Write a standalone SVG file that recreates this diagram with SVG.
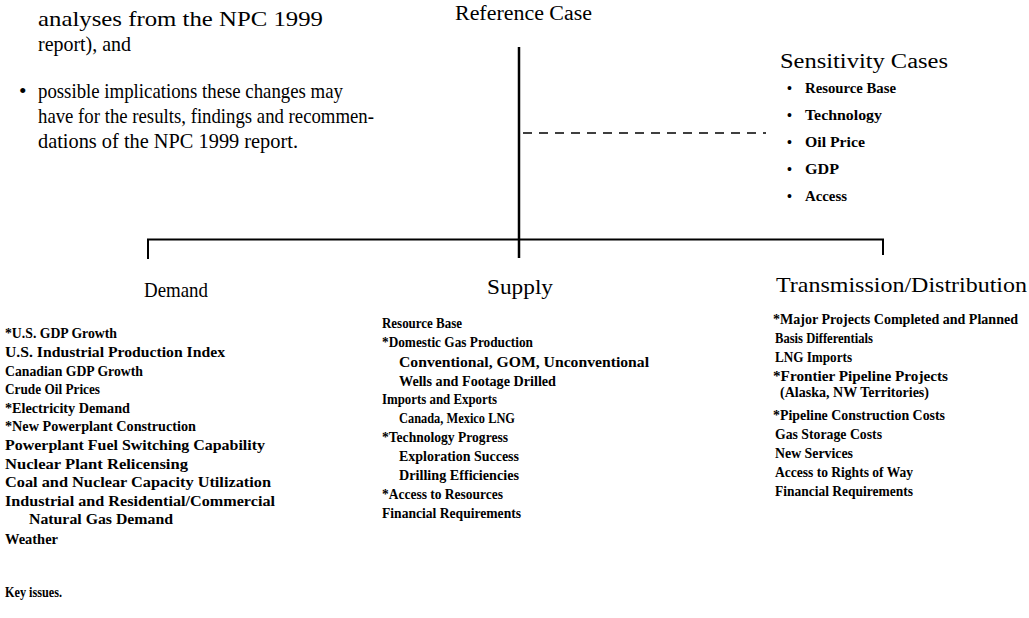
<svg xmlns="http://www.w3.org/2000/svg" width="1029" height="618" viewBox="0 0 1029 618">
<style>
text{font-family:"Liberation Serif","Times New Roman",serif;fill:#000}
.p{font-size:21.5px}
.h{font-size:22px}
.hs{font-size:20.5px}
.l{font-size:14px;font-weight:bold}
.s{font-size:14px;font-weight:bold}
.ln{stroke:#000;fill:none}
</style>
<rect width="1029" height="618" fill="#fff"/>
<g id="intro">
<text class="p" x="38" y="26" textLength="285" lengthAdjust="spacingAndGlyphs">analyses from the NPC 1999</text>
<text class="p" x="38" y="51" textLength="93" lengthAdjust="spacingAndGlyphs">report), and</text>
<text class="p" x="19" y="98">•</text>
<text class="p" x="38" y="98" textLength="305" lengthAdjust="spacingAndGlyphs">possible implications these changes may</text>
<text class="p" x="38" y="123" textLength="336" lengthAdjust="spacingAndGlyphs">have for the results, findings and recommen-</text>
<text class="p" x="38" y="148" textLength="260" lengthAdjust="spacingAndGlyphs">dations of the NPC 1999 report.</text>
</g>
<g id="connectors">
<line class="ln" x1="519" y1="47" x2="519" y2="258" stroke-width="2.5"/>
<line class="ln" x1="523" y1="133" x2="766" y2="133" stroke-width="1.3" stroke-dasharray="9,7"/>
<polyline class="ln" points="148,259 148,239.5 883,239.5 883,255" stroke-width="2"/>
</g>
<g id="reference-case">
<text class="hs" x="455" y="20" textLength="137" lengthAdjust="spacingAndGlyphs">Reference Case</text>
</g>
<g id="sensitivity-cases">
<text class="hs" x="780" y="68" textLength="168" lengthAdjust="spacingAndGlyphs">Sensitivity Cases</text>
<text class="s" x="787" y="93">•</text><text class="s" x="805" y="93" textLength="91" lengthAdjust="spacingAndGlyphs">Resource Base</text>
<text class="s" x="787" y="120">•</text><text class="s" x="805" y="120" textLength="77" lengthAdjust="spacingAndGlyphs">Technology</text>
<text class="s" x="787" y="147">•</text><text class="s" x="805" y="147" textLength="60" lengthAdjust="spacingAndGlyphs">Oil Price</text>
<text class="s" x="787" y="174">•</text><text class="s" x="805" y="174" textLength="34" lengthAdjust="spacingAndGlyphs">GDP</text>
<text class="s" x="787" y="201">•</text><text class="s" x="805" y="201" textLength="42" lengthAdjust="spacingAndGlyphs">Access</text>
</g>
<g id="demand">
<text class="h" x="144" y="297" textLength="64" lengthAdjust="spacingAndGlyphs">Demand</text>
<text class="l" x="5" y="338" textLength="112" lengthAdjust="spacingAndGlyphs">*U.S. GDP Growth</text>
<text class="l" x="5" y="357" textLength="220" lengthAdjust="spacingAndGlyphs">U.S. Industrial Production Index</text>
<text class="l" x="5" y="375.5" textLength="138" lengthAdjust="spacingAndGlyphs">Canadian GDP Growth</text>
<text class="l" x="5" y="394" textLength="95" lengthAdjust="spacingAndGlyphs">Crude Oil Prices</text>
<text class="l" x="5" y="412.5" textLength="125" lengthAdjust="spacingAndGlyphs">*Electricity Demand</text>
<text class="l" x="5" y="431" textLength="191" lengthAdjust="spacingAndGlyphs">*New Powerplant Construction</text>
<text class="l" x="5" y="450" textLength="260" lengthAdjust="spacingAndGlyphs">Powerplant Fuel Switching Capability</text>
<text class="l" x="5" y="468.5" textLength="183" lengthAdjust="spacingAndGlyphs">Nuclear Plant Relicensing</text>
<text class="l" x="5" y="487" textLength="266" lengthAdjust="spacingAndGlyphs">Coal and Nuclear Capacity Utilization</text>
<text class="l" x="5" y="505.5" textLength="270" lengthAdjust="spacingAndGlyphs">Industrial and Residential/Commercial</text>
<text class="l" x="29" y="524" textLength="144" lengthAdjust="spacingAndGlyphs">Natural Gas Demand</text>
<text class="l" x="5" y="544" textLength="53" lengthAdjust="spacingAndGlyphs">Weather</text>
</g>
<g id="supply">
<text class="h" x="487" y="294" textLength="66" lengthAdjust="spacingAndGlyphs">Supply</text>
<text class="l" x="382" y="328" textLength="80" lengthAdjust="spacingAndGlyphs">Resource Base</text>
<text class="l" x="382" y="347" textLength="151" lengthAdjust="spacingAndGlyphs">*Domestic Gas Production</text>
<text class="l" x="399" y="366.5" textLength="250" lengthAdjust="spacingAndGlyphs">Conventional, GOM, Unconventional</text>
<text class="l" x="399" y="385.5" textLength="157" lengthAdjust="spacingAndGlyphs">Wells and Footage Drilled</text>
<text class="l" x="382" y="404" textLength="115" lengthAdjust="spacingAndGlyphs">Imports and Exports</text>
<text class="l" x="399" y="423" textLength="116" lengthAdjust="spacingAndGlyphs">Canada, Mexico LNG</text>
<text class="l" x="382" y="442" textLength="126" lengthAdjust="spacingAndGlyphs">*Technology Progress</text>
<text class="l" x="399" y="461" textLength="120" lengthAdjust="spacingAndGlyphs">Exploration Success</text>
<text class="l" x="399" y="480" textLength="120" lengthAdjust="spacingAndGlyphs">Drilling Efficiencies</text>
<text class="l" x="382" y="499" textLength="121" lengthAdjust="spacingAndGlyphs">*Access to Resources</text>
<text class="l" x="382" y="518" textLength="139" lengthAdjust="spacingAndGlyphs">Financial Requirements</text>
</g>
<g id="transmission-distribution">
<text class="h" x="776" y="292" textLength="251" lengthAdjust="spacingAndGlyphs">Transmission/Distribution</text>
<text class="l" x="773" y="324" textLength="245" lengthAdjust="spacingAndGlyphs">*Major Projects Completed and Planned</text>
<text class="l" x="775" y="343" textLength="98" lengthAdjust="spacingAndGlyphs">Basis Differentials</text>
<text class="l" x="775" y="362" textLength="77" lengthAdjust="spacingAndGlyphs">LNG Imports</text>
<text class="l" x="773" y="381" textLength="175" lengthAdjust="spacingAndGlyphs">*Frontier Pipeline Projects</text>
<text class="l" x="780" y="397" textLength="149" lengthAdjust="spacingAndGlyphs">(Alaska, NW Territories)</text>
<text class="l" x="773" y="420" textLength="172" lengthAdjust="spacingAndGlyphs">*Pipeline Construction Costs</text>
<text class="l" x="775" y="439" textLength="107" lengthAdjust="spacingAndGlyphs">Gas Storage Costs</text>
<text class="l" x="775" y="458" textLength="78" lengthAdjust="spacingAndGlyphs">New Services</text>
<text class="l" x="775" y="477" textLength="138" lengthAdjust="spacingAndGlyphs">Access to Rights of Way</text>
<text class="l" x="775" y="496" textLength="138" lengthAdjust="spacingAndGlyphs">Financial Requirements</text>
</g>
<g id="caption">
<text class="l" x="5" y="597" textLength="57" lengthAdjust="spacingAndGlyphs">Key issues.</text>
</g>
</svg>
